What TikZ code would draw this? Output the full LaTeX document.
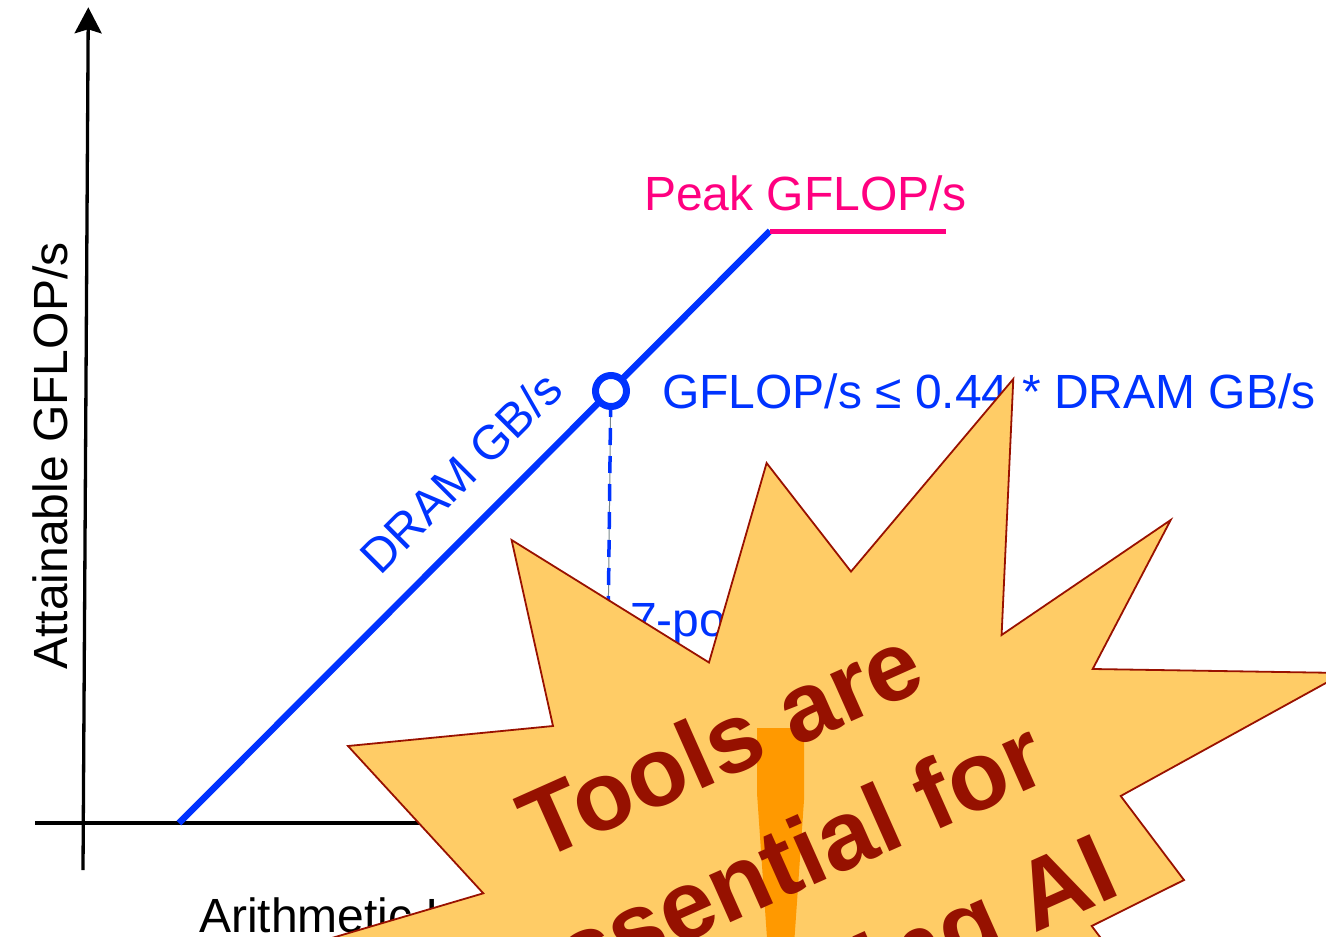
\documentclass[tikz,border=0pt]{standalone}
\usepackage{fontspec}
\setmainfont{Liberation Sans}
\usetikzlibrary{arrows.meta}
\definecolor{rlblue}{RGB}{0,51,255}
\definecolor{rlpink}{RGB}{255,0,128}
\definecolor{starfill}{RGB}{255,204,102}
\definecolor{stardraw}{RGB}{153,17,0}
\definecolor{startext}{RGB}{150,17,0}
\definecolor{bangcol}{RGB}{255,153,0}
\definecolor{thingray}{RGB}{120,135,140}
\begin{document}
\begin{tikzpicture}[x=1pt,y=-1pt,
  axisline/.style={line width=3.3pt, black},
  lbl/.style={font=\fontsize{48}{57}\selectfont, inner sep=0pt},
  burst/.style={fill=starfill, draw=stardraw, line width=1.8pt, line join=miter},
  bursttext/.style={font=\fontsize{97.8}{117}\selectfont\bfseries, text=startext, inner sep=0pt, anchor=base, rotate=24}]
\useasboundingbox (0,0) rectangle (1326,937);
\clip (0,0) rectangle (1326,937);
% axes
\coordinate (yb) at (83,870);
\coordinate (yt) at (88.3,7.3);
\coordinate (xl) at (35,823);
\coordinate (xr) at (520,823);
\draw[axisline, -{Stealth[length=26pt, width=27pt, inset=4pt]}] (yb) -- (yt);
\draw[axisline] (xl) -- (xr);
% roofline
\coordinate (b0) at (179,823);
\coordinate (b1) at (770,231);
\coordinate (p1) at (946,231);
\draw[rlblue, line width=6.5pt] (b0) -- (b1);
\draw[rlpink, line width=5pt] (b1) -- (p1);
% dashed drop line
\coordinate (d0) at (610.7,400);
\coordinate (d1) at (607.5,680);
\draw[thingray, line width=1pt] (d0) -- (d1);
\draw[rlblue, line width=3.5pt, dash pattern=on 17pt off 11pt] (d0) -- (d1);
% point
\node[circle, draw=rlblue, line width=7pt, fill=white, minimum size=31pt, inner sep=0pt] (pt) at (611,391) {};
% labels
\node[lbl, text=rlpink, anchor=base west] (peak) at (644,210) {Peak GFLOP/s};
\node[lbl, text=rlblue, anchor=base west] (bound) at (662,408) {GFLOP/s ≤ 0.44 * DRAM GB/s};
\node[lbl, anchor=base, rotate=90] (ylab) at (67.5,456) {Attainable GFLOP/s};
\node[lbl, text=rlblue, anchor=base, rotate=45] (dram) at (472.6,484.4) {DRAM GB/s};
\node[lbl, anchor=base west] (xlab) at (199,932) {Arithmetic Intensity};
\node[lbl, text=rlblue, anchor=base west] (sten) at (630,636) {7-point stencil};
% starburst
\draw[burst] (348,746) -- (553,726) -- (511.6,540) -- (709,662.5) -- (766.6,463)
  -- (851,571.6) -- (1013.3,379) -- (1001.6,635) -- (1170.7,520) -- (1092.7,669)
  -- (1344,673) -- (1120.7,796) -- (1184,880) -- (1091.7,926) -- (1140,990)
  -- (700,1100) -- (300,947.4) -- (483.3,893.3) -- cycle;
\fill[bangcol] (757,728) -- (804,728) -- (804,800) -- (793,960) -- (768.5,960) -- (757,793) -- cycle;
\node[bursttext] (t1) at (734.4,774.3) {Tools are};
\node[bursttext] (t2) at (788.8,896.4) {essential for};
\node[bursttext] (t3) at (843.1,1018.5) {optimizing AI};
\end{tikzpicture}
\end{document}
